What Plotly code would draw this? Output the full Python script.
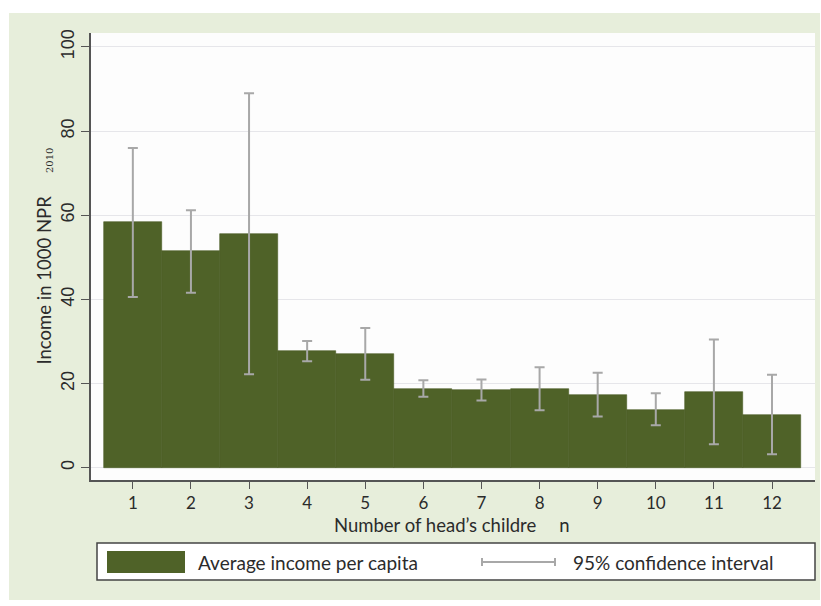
import plotly.graph_objects as go

# Average income per capita by number of the household head's children
children = [1, 2, 3, 4, 5, 6, 7, 8, 9, 10, 11, 12]
avg_income = [58.3, 51.4, 55.6, 27.7, 27.0, 18.8, 18.5, 18.8, 17.3, 13.8, 18.0, 12.6]
ci_upper = [76.0, 61.2, 89.0, 30.1, 33.2, 20.8, 21.0, 23.9, 22.6, 17.7, 30.5, 22.1]
ci_lower = [40.6, 41.6, 22.2, 25.3, 20.9, 16.9, 16.0, 13.7, 12.2, 10.1, 5.6, 3.2]
y_ticks = [0, 20, 40, 60, 80, 100]

BAR = "#4F6228"
CI = "#A8A8A8"
BG = "#E7EEDB"
FONT = "Lato"
TXT = "#2b2b2b"

err_plus = [u - m for u, m in zip(ci_upper, avg_income)]
err_minus = [m - l for m, l in zip(avg_income, ci_lower)]

fig = go.Figure()
fig.add_trace(go.Bar(
    x=children, y=avg_income, width=1,
    marker=dict(color=BAR, line=dict(color="#4A5C25", width=0.6)),
    error_y=dict(type="data", symmetric=False, array=err_plus, arrayminus=err_minus,
                 color=CI, thickness=2, width=5),
    showlegend=False,
))

W, H = 821, 606
L, R, T, B = 91, 6, 33, 126
pw, ph = W - L - R, H - T - B

def px(x):
    return (x - L) / pw

def py(y):
    return (H - B - y) / ph

shapes = [
    # light green frame behind the whole graph
    dict(type="rect", xref="paper", yref="paper", layer="below",
         x0=px(9), x1=px(820), y0=py(600), y1=py(13),
         fillcolor=BG, line=dict(width=0)),
    # white plotting region
    dict(type="rect", xref="paper", yref="paper", layer="below",
         x0=0, x1=1, y0=0, y1=1, fillcolor="#FDFDFD", line=dict(width=0)),
    # legend box
    dict(type="rect", xref="paper", yref="paper",
         x0=px(97), x1=px(815), y0=py(580), y1=py(543),
         fillcolor="white", line=dict(color="#444", width=1.5)),
    # legend swatch for bars
    dict(type="rect", xref="paper", yref="paper",
         x0=px(107), x1=px(185), y0=py(573), y1=py(551),
         fillcolor=BAR, line=dict(width=0)),
    # legend symbol for confidence interval
    dict(type="line", xref="paper", yref="paper",
         x0=px(482), x1=px(555), y0=py(562), y1=py(562),
         line=dict(color=CI, width=2)),
    dict(type="line", xref="paper", yref="paper",
         x0=px(482), x1=px(482), y0=py(558), y1=py(566),
         line=dict(color=CI, width=2)),
    dict(type="line", xref="paper", yref="paper",
         x0=px(555), x1=px(555), y0=py(558), y1=py(566),
         line=dict(color=CI, width=2)),
]

annotations = [
    dict(text="Income in 1000 NPR", xref="paper", yref="paper",
         x=px(43.5), y=py(280), textangle=-90, showarrow=False,
         font=dict(family=FONT, size=18.5, color=TXT), xanchor="center", yanchor="middle"),
    dict(text="2010", xref="paper", yref="paper",
         x=px(49), y=py(161), textangle=-90, showarrow=False,
         font=dict(family="DejaVu Serif", size=10, color=TXT), xanchor="center", yanchor="middle"),
    dict(text="Number of head\u2019s childre\u2003\u2002n", xref="paper", yref="paper",
         x=px(452), y=py(525), showarrow=False,
         font=dict(family=FONT, size=18.5, color=TXT), xanchor="center", yanchor="middle"),
    dict(text="Average income per capita", xref="paper", yref="paper",
         x=px(196), y=py(562), showarrow=False,
         font=dict(family=FONT, size=19, color=TXT), xanchor="left", yanchor="middle"),
    dict(text="95% confidence interval", xref="paper", yref="paper",
         x=px(571), y=py(562), showarrow=False,
         font=dict(family=FONT, size=19, color=TXT), xanchor="left", yanchor="middle"),
]

fig.update_layout(
    width=W, height=H,
    margin=dict(l=L, r=R, t=T, b=B, pad=0),
    paper_bgcolor="white", plot_bgcolor="rgba(0,0,0,0)",
    bargap=0, showlegend=False,
    font=dict(family=FONT, size=15, color=TXT),
    shapes=shapes, annotations=annotations,
    xaxis=dict(
        range=[0.28, 12.74], tickmode="array", tickvals=children,
        ticktext=[str(c) for c in children],
        ticks="outside", ticklen=7, tickwidth=1.3, tickcolor="#555",
        showline=True, linecolor="#555", linewidth=1.5,
        showgrid=False, zeroline=False,
        tickfont=dict(family=FONT, size=17, color=TXT),
    ),
    yaxis=dict(
        range=[-2.9, 103.3], tickmode="array", tickvals=y_ticks,
        ticks="outside", ticklen=8, tickwidth=1.3, tickcolor="#555",
        showline=True, linecolor="#555", linewidth=1.5,
        showgrid=True, gridcolor="#E6E6EA", gridwidth=1.2, zeroline=False,
        tickangle=-90,
        tickfont=dict(family="Liberation Sans", size=18, color=TXT),
    ),
)

fig.write_html("out.html")
